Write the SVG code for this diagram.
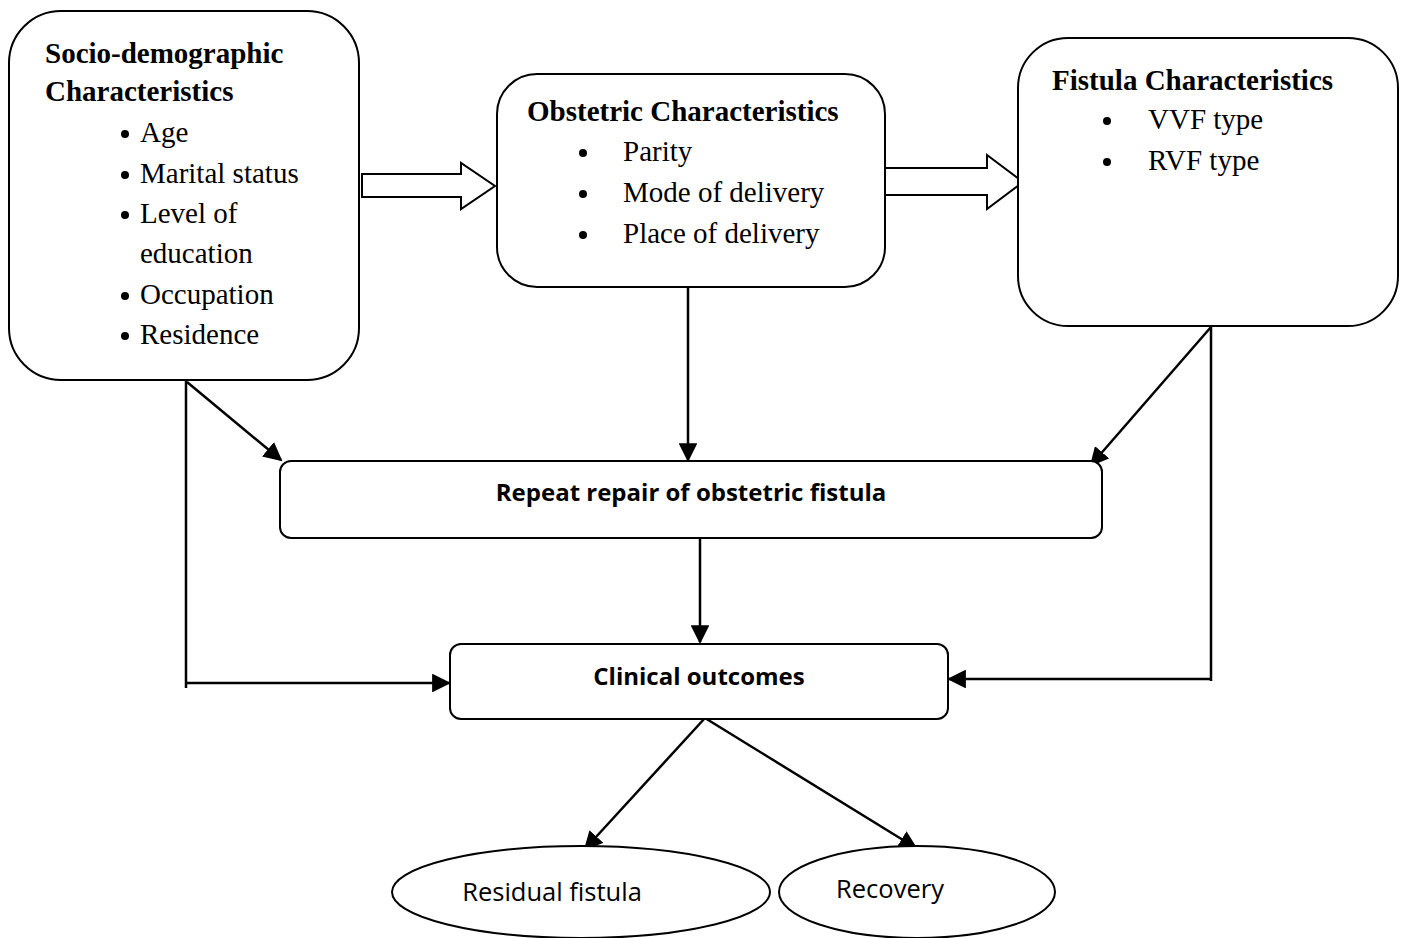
<svg xmlns="http://www.w3.org/2000/svg" width="1407" height="938" viewBox="0 0 1407 938">
<defs>
<style>
.box{fill:#fff;stroke:#000;stroke-width:2}
.ser{font-family:"Liberation Serif","Times New Roman",serif;font-size:29px;fill:#000}
.b{font-weight:bold}
.san{font-family:"Open Sans","Liberation Sans",sans-serif;fill:#000}
.ln{stroke:#000;stroke-width:2.5;fill:none}
.ar{stroke:#000;stroke-width:2.5;fill:none;marker-end:url(#ah)}
.hol{fill:#fff;stroke:#000;stroke-width:2}
</style>
<marker id="ah" viewBox="0 0 10 10" refX="9" refY="5" markerWidth="7.5" markerHeight="7.5" markerUnits="strokeWidth" orient="auto">
<path d="M0,0 L10,5 L0,10 z" fill="#000"/>
</marker>
</defs>
<rect width="1407" height="938" fill="#fff"/>

<g id="connectors">
<polygon class="hol" points="362,174 461,174 461,163 495,186 461,209 461,197 362,197"/>
<polygon class="hol" points="885,168 987,168 987,155 1023,182 987,209 987,195 885,195"/>
<polyline class="ln" points="186,380 186,688"/>
<line class="ar" x1="186" y1="683" x2="449" y2="683"/>
<line class="ar" x1="187" y1="382" x2="281" y2="460"/>
<line class="ar" x1="688" y1="287" x2="688" y2="460"/>
<line class="ln" x1="1211" y1="326" x2="1211" y2="681"/>
<line class="ar" x1="1211" y1="327" x2="1091" y2="465"/>
<line class="ar" x1="1211" y1="679" x2="949" y2="679"/>
<line class="ar" x1="700" y1="538" x2="700" y2="642"/>
<line class="ar" x1="705" y1="718" x2="585" y2="849"/>
<line class="ar" x1="705" y1="718" x2="916" y2="848"/>
</g>

<g id="socio">
<rect class="box" x="9" y="11" width="350" height="369" rx="52"/>
<text class="ser b" x="45" y="63">Socio-demographic</text>
<text class="ser b" x="45" y="101">Characteristics</text>
<circle cx="125" cy="134" r="4"/><text class="ser" x="140" y="142">Age</text>
<circle cx="125" cy="175" r="4"/><text class="ser" x="140" y="183">Marital status</text>
<circle cx="125" cy="215" r="4"/><text class="ser" x="140" y="223">Level of</text>
<text class="ser" x="140" y="263">education</text>
<circle cx="125" cy="296" r="4"/><text class="ser" x="140" y="304">Occupation</text>
<circle cx="125" cy="336" r="4"/><text class="ser" x="140" y="344">Residence</text>
</g>

<g id="obstetric">
<rect class="box" x="497" y="74" width="388" height="213" rx="40"/>
<text class="ser b" x="527" y="121">Obstetric Characteristics</text>
<circle cx="583" cy="153" r="4"/><text class="ser" x="623" y="161">Parity</text>
<circle cx="583" cy="194" r="4"/><text class="ser" x="623" y="202">Mode of delivery</text>
<circle cx="583" cy="235" r="4"/><text class="ser" x="623" y="243">Place of delivery</text>
</g>

<g id="fistula">
<rect class="box" x="1018" y="38" width="380" height="288" rx="50"/>
<text class="ser b" x="1052" y="90">Fistula Characteristics</text>
<circle cx="1107" cy="121" r="4"/><text class="ser" x="1148" y="129">VVF type</text>
<circle cx="1107" cy="162" r="4"/><text class="ser" x="1148" y="170">RVF type</text>
</g>

<g id="repeat">
<rect class="box" x="280" y="461" width="822" height="77" rx="11"/>
<text class="san b" x="691" y="501" font-size="24" text-anchor="middle">Repeat repair of obstetric fistula</text>
</g>

<g id="clinical">
<rect class="box" x="450" y="644" width="498" height="75" rx="11"/>
<text class="san b" x="699" y="685" font-size="24" text-anchor="middle">Clinical outcomes</text>
</g>

<g id="residual">
<ellipse class="box" cx="581" cy="892" rx="189" ry="46"/>
<text class="san" x="552" y="901" font-size="25.5" text-anchor="middle">Residual fistula</text>
</g>

<g id="recovery">
<ellipse class="box" cx="917" cy="892" rx="138" ry="46"/>
<text class="san" x="890" y="898" font-size="25.5" text-anchor="middle">Recovery</text>
</g>
</svg>
